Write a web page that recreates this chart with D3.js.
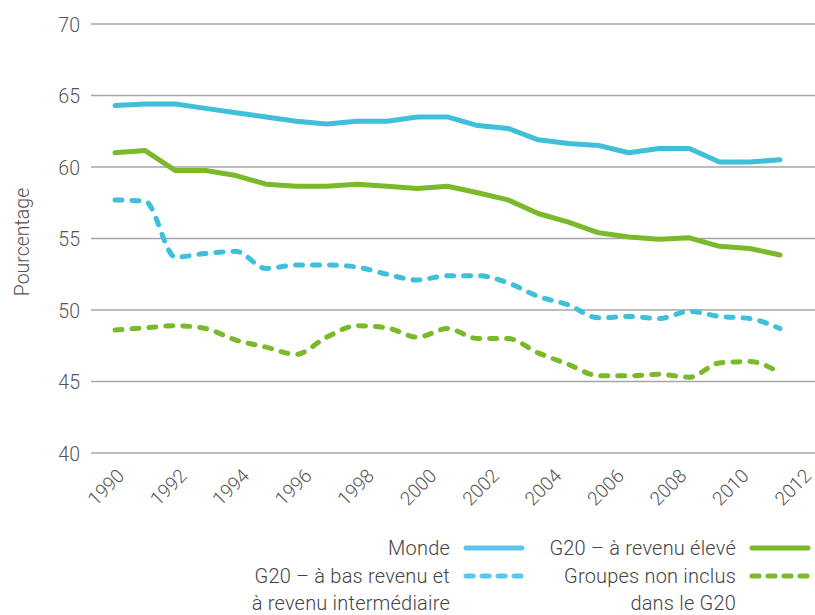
<!DOCTYPE html>
<html>
<head>
<meta charset="utf-8">
<script src="https://cdn.jsdelivr.net/npm/d3@7"></script>
<style>
  html, body { margin: 0; padding: 0; background: #fff; }
  svg { display: block; font-family: Roboto, "Noto Sans", sans-serif; font-weight: 300; }
</style>
</head>
<body>
<svg id="chart" width="815" height="615"></svg>
<script>
const years = d3.range(1990, 2013);
const tickYears = [1990, 1992, 1994, 1996, 1998, 2000, 2002, 2004, 2006, 2008, 2010, 2012];
const yTicks = [40, 45, 50, 55, 60, 65, 70];

const monde = [64.3, 64.4, 64.4, 64.1, 63.8, 63.5, 63.2, 63.0, 63.2, 63.2, 63.5, 63.5,
               62.9, 62.7, 61.9, 61.65, 61.5, 61.0, 61.3, 61.3, 60.35, 60.35, 60.5];
const g20Eleve = [61.0, 61.15, 59.75, 59.75, 59.4, 58.8, 58.65, 58.65, 58.8, 58.65, 58.5, 58.65,
                  58.2, 57.7, 56.75, 56.15, 55.4, 55.1, 54.95, 55.05, 54.45, 54.3, 53.85];
const g20BasInter = [57.7, 57.6, 53.7, 53.95, 54.1, 52.9, 53.15, 53.15, 53.0, 52.5, 52.1, 52.4,
                     52.4, 51.9, 50.95, 50.35, 49.45, 49.55, 49.4, 49.9, 49.55, 49.4, 48.7];
const nonInclus = [48.6, 48.75, 48.9, 48.7, 47.9, 47.4, 46.9, 48.1, 48.9, 48.75, 48.1, 48.7,
                   48.0, 48.0, 47.0, 46.2, 45.4, 45.4, 45.5, 45.3, 46.3, 46.4, 45.6];

const seriesNames = ["Monde", "G20 – à revenu élevé", "G20 – à bas revenu et\nà revenu intermédiaire", "Groupes non inclus\ndans le G20"];

const blue = "#3fbfd9", green = "#7aba2a";
const legendBlue = "#5cc6ee", legendGreen = "#7aba2a";

const series = [
  { name: seriesNames[0], values: monde, color: blue, lcolor: legendBlue, dashed: false },
  { name: seriesNames[1], values: g20Eleve, color: green, lcolor: legendGreen, dashed: false },
  { name: seriesNames[2], values: g20BasInter, color: blue, lcolor: legendBlue, dashed: true },
  { name: seriesNames[3], values: nonInclus, color: green, lcolor: legendGreen, dashed: true }
];

const svg = d3.select("#chart");
const x = d3.scaleLinear().domain([1990, 2012]).range([115, 780]);
const xLabel = d3.scaleLinear().domain([1990, 2012]).range([125, 812]);
const y = d3.scaleLinear().domain([40, 70]).range([453, 24]);

// y tick labels
const yAxis = d3.axisLeft(y).tickValues(yTicks).tickSize(0).tickPadding(0);
const yg = svg.append("g").attr("transform", "translate(80,0)").call(yAxis);
yg.select(".domain").remove();
yg.selectAll("text").attr("font-size", 19.5).attr("fill", "#555").attr("font-family", "Roboto, sans-serif").attr("font-weight", 300).attr("dy", "0.36em");

// gridlines
svg.append("g").selectAll("line").data(yTicks).join("line")
  .attr("x1", 91).attr("x2", 815)
  .attr("y1", d => y(d)).attr("y2", d => y(d))
  .attr("stroke", "#a6a6a6").attr("stroke-width", 1.6);

// x labels
const xAxis = d3.axisBottom(xLabel).tickValues(tickYears).tickFormat(d3.format("d")).tickSize(0).tickPadding(0);
const xg = svg.append("g").attr("transform", "translate(0,477)").call(xAxis);
xg.select(".domain").remove();
xg.selectAll("text")
  .attr("font-size", 19).attr("fill", "#555").attr("font-family", "Roboto, sans-serif").attr("font-weight", 300)
  .attr("text-anchor", "end").attr("dy", 0).attr("y", 0)
  .attr("transform", "rotate(-45)");

// y title
svg.append("text")
  .attr("transform", "translate(29,242) rotate(-90)")
  .attr("text-anchor", "middle")
  .attr("font-size", 19.5).attr("fill", "#555")
  .text("Pourcentage");

// lines
const lineSolid = d3.line().x((d, i) => x(years[i])).y(d => y(d));
const lineSmooth = d3.line().x((d, i) => x(years[i])).y(d => y(d)).curve(d3.curveMonotoneX);

svg.append("g").selectAll("path").data(series).join("path")
  .attr("d", d => (d.dashed ? lineSmooth : lineSolid)(d.values))
  .attr("fill", "none")
  .attr("stroke", d => d.color)
  .attr("stroke-width", 5)
  .attr("stroke-linejoin", "round")
  .attr("stroke-linecap", "round")
  .attr("stroke-dasharray", d => d.dashed ? "7,10" : null);

// legend
const legendCols = [450, 736];
const legendRows = [555, 583];
const lg = svg.append("g");
series.forEach((s, i) => {
  const cx = legendCols[i % 2];
  const by = legendRows[Math.floor(i / 2)];
  const t = lg.append("text").attr("text-anchor", "end").attr("font-size", 20)
    .attr("letter-spacing", 0.2).attr("fill", "#444");
  s.name.split("\n").forEach((ln, j) => {
    t.append("tspan").attr("x", cx).attr("y", by + j * 27).text(ln);
  });
  lg.append("line")
    .attr("x1", cx + 16).attr("x2", cx + 72)
    .attr("y1", by - 7).attr("y2", by - 7)
    .attr("stroke", s.lcolor).attr("stroke-width", 5)
    .attr("stroke-linecap", "round")
    .attr("stroke-dasharray", s.dashed ? "7,9" : null);
});
</script>
</body>
</html>
